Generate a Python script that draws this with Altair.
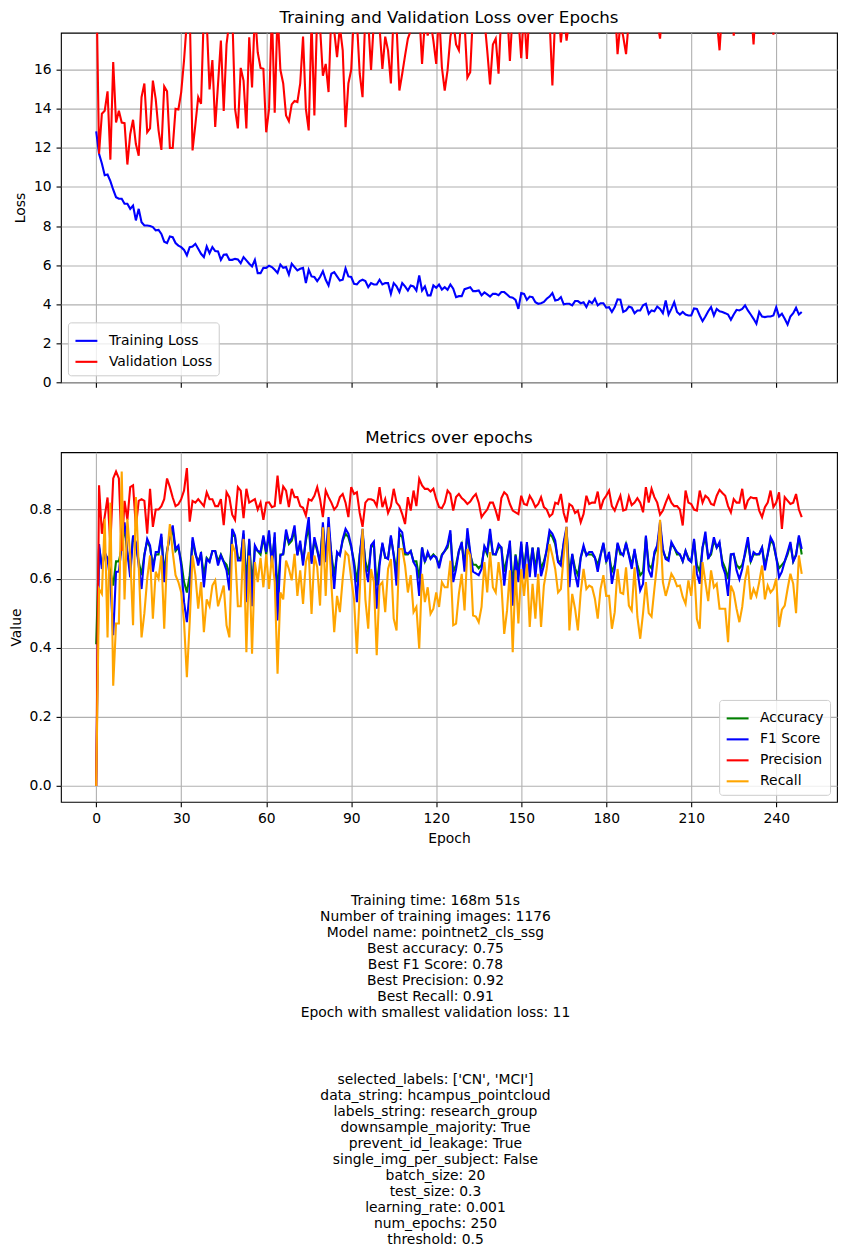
import altair as alt
import pandas as pd

epochs = list(range(250))

train_loss = [
    12.85, 11.7, 11.2, 10.6, 10.64, 10.3, 9.86, 9.48, 9.4, 9.4,
    9.14, 9.14, 8.88, 9.05, 8.29, 8.88, 8.2, 8.03, 8.03, 8.0,
    7.95, 7.78, 7.8, 7.6, 7.2, 7.13, 7.47, 7.43, 7.13, 7.0,
    6.92, 6.78, 6.5, 6.92, 6.95, 7.09, 6.84, 6.58, 6.41, 6.95,
    6.61, 6.92, 6.72, 6.7, 6.27, 6.53, 6.55, 6.27, 6.27, 6.32,
    6.29, 6.1, 6.41, 6.24, 6.07, 5.93, 6.27, 5.59, 5.59, 5.86,
    5.86, 5.97, 5.9, 5.76, 5.6, 6.03, 5.86, 5.9, 5.52, 6.07,
    5.9, 5.73, 5.81, 5.86, 5.08, 5.76, 5.42, 5.39, 5.18, 5.39,
    5.69, 5.25, 4.96, 5.56, 5.64, 5.42, 5.21, 5.25, 5.83, 5.42,
    5.39, 5.04, 5.01, 5.18, 5.25, 5.18, 4.87, 5.08, 5.01, 5.01,
    5.25, 5.01, 5.08, 5.08, 4.53, 5.08, 4.91, 4.62, 5.08, 4.91,
    4.7, 4.96, 4.91, 4.7, 5.47, 4.7, 4.91, 4.45, 4.45, 4.96,
    4.84, 5.01, 4.75, 4.87, 4.74, 5.01, 4.79, 4.36, 4.41, 4.41,
    4.77, 4.82, 4.87, 4.67, 4.67, 4.7, 4.45, 4.6, 4.5, 4.39,
    4.53, 4.53, 4.46, 4.62, 4.62, 4.5, 4.36, 4.33, 4.22, 3.76,
    4.57, 4.53, 4.22, 4.39, 4.36, 4.1, 4.02, 4.05, 4.12, 4.28,
    4.39, 4.57, 4.19, 4.22, 4.36, 3.99, 4.02, 4.02, 3.94, 4.16,
    4.16, 4.05, 4.1, 3.85, 4.16, 4.05, 4.28, 3.94, 4.05, 4.05,
    3.82, 3.85, 3.6, 3.85, 4.25, 4.23, 3.6, 3.68, 3.88, 3.82,
    3.54, 3.68, 3.68, 3.94, 4.02, 3.51, 3.68, 3.64, 3.88, 3.76,
    3.54, 4.19, 3.47, 3.76, 4.1, 3.6, 3.47, 3.6, 3.47, 3.42,
    3.42, 3.78, 3.76, 3.42, 3.13, 3.37, 3.64, 3.85, 3.42, 3.76,
    3.64, 3.6, 3.54, 3.47, 3.2, 3.47, 3.71, 3.68, 3.76, 3.94,
    3.68, 3.47, 3.25, 3.0, 3.6, 3.37, 3.34, 3.37, 3.37, 3.42,
    3.85, 3.37, 3.51, 3.25, 2.96, 3.37, 3.54, 3.82, 3.47, 3.6,
]

val_loss = [
    21.0, 11.7, 13.75, 13.9, 14.9, 11.4, 16.4, 13.3, 13.9, 13.3,
    13.27, 11.15, 12.7, 13.44, 12.2, 11.6, 14.6, 15.3, 12.8, 13.0,
    15.45, 14.5, 12.9, 11.9, 15.15, 14.9, 12.0, 12.0, 14.0, 13.97,
    14.86, 16.5, 18.5, 19.0, 11.87, 13.2, 14.6, 14.26, 19.0, 18.5,
    15.0, 16.5, 13.07, 15.28, 17.5, 13.9, 17.3, 18.5, 19.0, 14.0,
    13.0, 16.1, 15.45, 13.0, 17.67, 15.1, 19.0, 16.9, 16.1, 16.05,
    12.8, 14.0, 19.0, 13.8, 19.0, 16.0, 15.3, 13.66, 13.37, 14.23,
    14.4, 14.35, 15.3, 17.7, 14.0, 12.9, 18.5, 13.66, 19.0, 18.2,
    15.7, 16.3, 14.86, 19.0, 18.0, 16.65, 18.2, 17.0, 13.06, 15.3,
    16.0, 19.0, 18.5, 15.8, 14.6, 19.0, 18.5, 16.0, 18.5, 19.0,
    18.2, 16.05, 17.7, 17.0, 15.3, 19.0, 18.3, 14.94, 15.8, 16.73,
    17.6, 18.0, 18.2, 18.5, 19.0, 16.3, 18.5, 17.75, 18.5, 17.5,
    16.3, 19.0, 16.13, 14.94, 15.97, 17.7, 18.5, 17.3, 17.0, 19.0,
    18.4, 15.6, 15.88, 19.0, 19.5, 18.8, 20.0, 18.6, 17.0, 15.25,
    17.3, 17.6, 15.8, 19.0, 18.5, 19.2, 16.45, 19.0, 20.1, 18.7,
    16.6, 19.0, 16.56, 19.3, 20.0, 18.9, 19.6, 20.4, 18.8, 19.5,
    18.6, 15.2, 18.8, 19.4, 17.4, 19.0, 17.5, 18.6, 19.8, 20.5,
    19.1, 18.7, 19.9, 20.6, 19.3, 18.9, 20.2, 19.4, 18.8, 19.7,
    20.3, 19.0, 18.4, 19.5, 16.8, 18.4, 17.7, 16.8, 18.6, 19.9,
    20.4, 19.2, 18.8, 20.1, 19.6, 18.9, 20.8, 19.3, 18.5, 17.6,
    19.4, 20.2, 18.7, 19.8, 21.0, 19.5, 18.6, 20.3, 19.1, 18.8,
    20.7, 19.9, 18.4, 19.6, 20.9, 19.2, 18.7, 20.0, 19.4, 18.6,
    17.0, 19.3, 20.5, 18.9, 19.7, 17.75, 19.2, 20.6, 19.0, 18.5,
    20.1, 19.4, 17.3, 19.8, 20.7, 19.1, 18.6, 20.2, 19.5, 17.8,
    19.6, 20.8, 19.0, 18.4, 20.3, 19.7, 18.9, 20.5, 19.2, 19.8,
]

accuracy = [
    0.41, 0.69, 0.64, 0.67, 0.66, 0.62, 0.58, 0.65, 0.65, 0.69,
    0.75, 0.67, 0.63, 0.72, 0.70, 0.65, 0.61, 0.67, 0.71, 0.69,
    0.64, 0.67, 0.67, 0.72, 0.62, 0.68, 0.72, 0.74, 0.68, 0.69,
    0.65, 0.59, 0.56, 0.61, 0.71, 0.67, 0.65, 0.67, 0.61, 0.66,
    0.65, 0.68, 0.68, 0.65, 0.67, 0.65, 0.64, 0.61, 0.73, 0.72,
    0.66, 0.66, 0.73, 0.59, 0.71, 0.58, 0.69, 0.68, 0.67, 0.72,
    0.67, 0.73, 0.65, 0.72, 0.56, 0.67, 0.67, 0.73, 0.70, 0.71,
    0.74, 0.67, 0.70, 0.65, 0.71, 0.75, 0.65, 0.71, 0.68, 0.65,
    0.75, 0.65, 0.75, 0.67, 0.61, 0.67, 0.67, 0.71, 0.73, 0.72,
    0.69, 0.65, 0.59, 0.67, 0.73, 0.65, 0.62, 0.69, 0.70, 0.58,
    0.65, 0.70, 0.66, 0.66, 0.72, 0.67, 0.62, 0.73, 0.72, 0.67,
    0.67, 0.68, 0.65, 0.65, 0.60, 0.69, 0.65, 0.67, 0.66, 0.67,
    0.66, 0.64, 0.67, 0.68, 0.69, 0.73, 0.62, 0.64, 0.68, 0.70,
    0.64, 0.73, 0.67, 0.64, 0.64, 0.63, 0.64, 0.69, 0.67, 0.73,
    0.67, 0.67, 0.69, 0.69, 0.62, 0.66, 0.70, 0.58, 0.67, 0.62,
    0.70, 0.63, 0.70, 0.63, 0.69, 0.63, 0.69, 0.63, 0.65, 0.68,
    0.73, 0.72, 0.70, 0.65, 0.65, 0.70, 0.74, 0.61, 0.67, 0.63,
    0.61, 0.66, 0.69, 0.67, 0.67, 0.67, 0.66, 0.64, 0.67, 0.70,
    0.65, 0.67, 0.62, 0.64, 0.70, 0.67, 0.67, 0.70, 0.67, 0.64,
    0.68, 0.64, 0.61, 0.62, 0.72, 0.64, 0.63, 0.67, 0.69, 0.75,
    0.68, 0.66, 0.66, 0.70, 0.69, 0.67, 0.67, 0.65, 0.68, 0.66,
    0.65, 0.71, 0.64, 0.62, 0.69, 0.72, 0.66, 0.67, 0.71, 0.69,
    0.70, 0.65, 0.63, 0.60, 0.67, 0.67, 0.64, 0.63, 0.64, 0.67,
    0.71, 0.65, 0.67, 0.67, 0.67, 0.69, 0.64, 0.67, 0.71, 0.70,
    0.66, 0.63, 0.64, 0.65, 0.67, 0.70, 0.65, 0.67, 0.72, 0.67,
]

f1_score = [
    0.0, 0.70, 0.628, 0.677, 0.657, 0.59, 0.436, 0.62, 0.62, 0.696,
    0.763, 0.677, 0.604, 0.725, 0.705, 0.638, 0.57, 0.667, 0.715, 0.696,
    0.62, 0.677, 0.677, 0.73, 0.59, 0.68, 0.725, 0.754, 0.686, 0.696,
    0.638, 0.532, 0.474, 0.57, 0.72, 0.677, 0.638, 0.677, 0.575, 0.657,
    0.648, 0.68, 0.68, 0.638, 0.667, 0.648, 0.624, 0.566, 0.744, 0.725,
    0.653, 0.653, 0.74, 0.532, 0.715, 0.52, 0.696, 0.68, 0.677, 0.725,
    0.677, 0.74, 0.633, 0.734, 0.479, 0.667, 0.672, 0.742, 0.706, 0.717,
    0.754, 0.667, 0.71, 0.638, 0.72, 0.778, 0.643, 0.72, 0.686, 0.638,
    0.763, 0.648, 0.778, 0.667, 0.57, 0.677, 0.667, 0.715, 0.744, 0.73,
    0.696, 0.638, 0.532, 0.667, 0.744, 0.633, 0.59, 0.696, 0.707, 0.513,
    0.638, 0.704, 0.662, 0.657, 0.725, 0.667, 0.58, 0.744, 0.734, 0.677,
    0.672, 0.68, 0.648, 0.633, 0.55, 0.69, 0.648, 0.677, 0.657, 0.667,
    0.662, 0.63, 0.667, 0.68, 0.698, 0.74, 0.59, 0.628, 0.68, 0.706,
    0.62, 0.746, 0.677, 0.62, 0.615, 0.61, 0.628, 0.694, 0.677, 0.744,
    0.672, 0.67, 0.70, 0.69, 0.58, 0.652, 0.71, 0.522, 0.667, 0.59,
    0.707, 0.60, 0.706, 0.604, 0.69, 0.604, 0.69, 0.607, 0.638, 0.686,
    0.74, 0.73, 0.71, 0.648, 0.638, 0.706, 0.75, 0.575, 0.672, 0.614,
    0.575, 0.662, 0.696, 0.667, 0.677, 0.677, 0.662, 0.62, 0.667, 0.704,
    0.648, 0.677, 0.585, 0.628, 0.704, 0.677, 0.667, 0.704, 0.667, 0.628,
    0.686, 0.624, 0.566, 0.585, 0.725, 0.624, 0.604, 0.677, 0.696, 0.765,
    0.686, 0.657, 0.652, 0.706, 0.69, 0.677, 0.67, 0.65, 0.68, 0.655,
    0.648, 0.715, 0.615, 0.585, 0.69, 0.736, 0.657, 0.677, 0.72, 0.69,
    0.706, 0.638, 0.614, 0.55, 0.67, 0.672, 0.624, 0.598, 0.628, 0.677,
    0.72, 0.648, 0.677, 0.67, 0.672, 0.69, 0.624, 0.672, 0.72, 0.704,
    0.662, 0.604, 0.62, 0.65, 0.677, 0.706, 0.65, 0.667, 0.725, 0.686,
]

precision = [
    0.0, 0.87, 0.73, 0.78, 0.835, 0.70, 0.89, 0.91, 0.89, 0.68,
    0.825, 0.77, 0.865, 0.87, 0.75, 0.825, 0.83, 0.825, 0.73, 0.86,
    0.75, 0.80, 0.80, 0.81, 0.83, 0.89, 0.865, 0.835, 0.81, 0.815,
    0.83, 0.855, 0.92, 0.765, 0.825, 0.82, 0.83, 0.82, 0.81, 0.85,
    0.83, 0.83, 0.81, 0.81, 0.83, 0.755, 0.85, 0.835, 0.785, 0.77,
    0.865, 0.855, 0.775, 0.86, 0.82, 0.825, 0.83, 0.80, 0.82, 0.77,
    0.82, 0.821, 0.807, 0.81, 0.898, 0.816, 0.867, 0.855, 0.807, 0.86,
    0.836, 0.836, 0.81, 0.805, 0.783, 0.83, 0.826, 0.84, 0.865, 0.83,
    0.778, 0.855, 0.836, 0.82, 0.80, 0.81, 0.836, 0.845, 0.82, 0.778,
    0.865, 0.845, 0.85, 0.79, 0.75, 0.82, 0.83, 0.83, 0.826, 0.81,
    0.865, 0.807, 0.83, 0.79, 0.81, 0.86, 0.82, 0.81, 0.787, 0.758,
    0.836, 0.797, 0.855, 0.81, 0.889, 0.87, 0.86, 0.86, 0.852, 0.86,
    0.83, 0.807, 0.804, 0.82, 0.855, 0.845, 0.797, 0.836, 0.845, 0.833,
    0.826, 0.816, 0.823, 0.836, 0.845, 0.82, 0.778, 0.79, 0.80, 0.82,
    0.82, 0.797, 0.768, 0.833, 0.85, 0.842, 0.816, 0.797, 0.792, 0.787,
    0.84, 0.816, 0.813, 0.84, 0.826, 0.807, 0.816, 0.836, 0.807, 0.80,
    0.78, 0.787, 0.82, 0.816, 0.845, 0.79, 0.763, 0.816, 0.81, 0.79,
    0.797, 0.763, 0.787, 0.84, 0.816, 0.82, 0.82, 0.852, 0.80, 0.828,
    0.84, 0.855, 0.81, 0.797, 0.82, 0.84, 0.797, 0.80, 0.838, 0.813,
    0.82, 0.833, 0.82, 0.792, 0.865, 0.82, 0.86, 0.836, 0.82, 0.785,
    0.797, 0.82, 0.84, 0.82, 0.81, 0.81, 0.80, 0.754, 0.855, 0.82,
    0.816, 0.80, 0.797, 0.855, 0.82, 0.84, 0.833, 0.816, 0.813, 0.84,
    0.857, 0.848, 0.84, 0.81, 0.792, 0.83, 0.82, 0.82, 0.86, 0.80,
    0.826, 0.836, 0.833, 0.833, 0.797, 0.778, 0.807, 0.82, 0.855, 0.807,
    0.82, 0.85, 0.744, 0.836, 0.826, 0.816, 0.82, 0.845, 0.80, 0.778,
]

recall = [
    0.0, 0.57, 0.556, 0.773, 0.43, 0.82, 0.29, 0.47, 0.47, 0.91,
    0.54, 0.773, 0.667, 0.465, 0.836, 0.638, 0.43, 0.50, 0.60, 0.667,
    0.484, 0.62, 0.60, 0.667, 0.455, 0.667, 0.758, 0.677, 0.61, 0.59,
    0.56, 0.474, 0.315, 0.475, 0.667, 0.61, 0.513, 0.59, 0.445, 0.54,
    0.52, 0.58, 0.595, 0.52, 0.55, 0.58, 0.465, 0.43, 0.70, 0.677,
    0.52, 0.52, 0.715, 0.387, 0.667, 0.383, 0.648, 0.59, 0.66, 0.575,
    0.67, 0.57, 0.667, 0.59, 0.325, 0.56, 0.54, 0.652, 0.628, 0.595,
    0.672, 0.55, 0.624, 0.527, 0.648, 0.677, 0.498, 0.667, 0.633, 0.522,
    0.749, 0.55, 0.749, 0.585, 0.445, 0.55, 0.503, 0.60, 0.677, 0.667,
    0.60, 0.54, 0.383, 0.56, 0.744, 0.54, 0.455, 0.628, 0.59, 0.378,
    0.58, 0.59, 0.503, 0.628, 0.657, 0.484, 0.45, 0.686, 0.686, 0.638,
    0.56, 0.61, 0.503, 0.518, 0.397, 0.614, 0.532, 0.575, 0.498, 0.513,
    0.56, 0.518, 0.59, 0.575, 0.575, 0.652, 0.465, 0.47, 0.556, 0.614,
    0.508, 0.686, 0.667, 0.493, 0.49, 0.474, 0.518, 0.648, 0.56, 0.677,
    0.575, 0.56, 0.648, 0.585, 0.44, 0.508, 0.624, 0.387, 0.624, 0.47,
    0.628, 0.55, 0.643, 0.46, 0.585, 0.484, 0.614, 0.46, 0.58, 0.628,
    0.70, 0.667, 0.628, 0.56, 0.57, 0.667, 0.75, 0.45, 0.556, 0.513,
    0.45, 0.56, 0.628, 0.57, 0.58, 0.575, 0.542, 0.484, 0.57, 0.61,
    0.55, 0.55, 0.455, 0.503, 0.628, 0.56, 0.556, 0.633, 0.522, 0.508,
    0.633, 0.489, 0.426, 0.50, 0.59, 0.50, 0.49, 0.57, 0.645, 0.77,
    0.59, 0.55, 0.58, 0.614, 0.60, 0.578, 0.58, 0.547, 0.527, 0.595,
    0.55, 0.638, 0.484, 0.455, 0.648, 0.59, 0.535, 0.624, 0.575, 0.585,
    0.513, 0.513, 0.513, 0.416, 0.58, 0.56, 0.513, 0.474, 0.518, 0.595,
    0.638, 0.54, 0.57, 0.55, 0.59, 0.638, 0.54, 0.58, 0.56, 0.57,
    0.60, 0.46, 0.51, 0.522, 0.57, 0.614, 0.585, 0.50, 0.667, 0.614,
]

summary_lines = [
    "Training time: 168m 51s",
    "Number of training images: 1176",
    "Model name: pointnet2_cls_ssg",
    "Best accuracy: 0.75",
    "Best F1 Score: 0.78",
    "Best Precision: 0.92",
    "Best Recall: 0.91",
    "Epoch with smallest validation loss: 11",
]

param_lines = [
    "selected_labels: ['CN', 'MCI']",
    "data_string: hcampus_pointcloud",
    "labels_string: research_group",
    "downsample_majority: True",
    "prevent_id_leakage: True",
    "single_img_per_subject: False",
    "batch_size: 20",
    "test_size: 0.3",
    "learning_rate: 0.001",
    "num_epochs: 250",
    "threshold: 0.5",
]

FONT = "DejaVu Sans"
W = 777
H = 350

# long tables for the two panels
loss_df = pd.concat([
    pd.DataFrame({"epoch": epochs, "value": train_loss, "series": "Training Loss"}),
    pd.DataFrame({"epoch": epochs, "value": val_loss, "series": "Validation Loss"}),
])
metric_names = ["Accuracy", "F1 Score", "Precision", "Recall"]
metric_df = pd.concat([
    pd.DataFrame({"epoch": epochs, "value": vals, "series": name})
    for name, vals in zip(metric_names, [accuracy, f1_score, precision, recall])
])

# text block: one row per line, blank gap between the two blocks
text_df = pd.DataFrame({
    "row": list(range(len(summary_lines))) + [11.19 + i for i in range(len(param_lines))],
    "text": summary_lines + param_lines,
    "col": 0.4826,
})

x_scale = alt.Scale(domain=[-12.45, 261.45], nice=False, zero=False)
x_ticks = list(range(0, 241, 30))

legend_style = dict(
    title=None, symbolType="stroke", symbolStrokeWidth=2.1, symbolSize=480,
    labelFontSize=13.9, labelFont=FONT, labelColor="black", labelOffset=10,
    rowPadding=1, padding=6, fillColor="rgba(255,255,255,0.8)",
    strokeColor="#cccccc", cornerRadius=3, offset=7,
)

loss_scale = alt.Scale(domain=["Training Loss", "Validation Loss"], range=["blue", "red"])


def loss_line(name):
    return alt.Chart(loss_df).transform_filter(alt.datum.series == name).mark_line(
        strokeWidth=2.1, clip=True
    ).encode(
        x=alt.X("epoch:Q", scale=x_scale,
                axis=alt.Axis(values=x_ticks, labels=False, title=None)),
        y=alt.Y("value:Q", scale=alt.Scale(domain=[0, 17.9], nice=False, zero=False),
                axis=alt.Axis(values=list(range(0, 17, 2)), title="Loss")),
        color=alt.Color("series:N", scale=loss_scale,
                        legend=alt.Legend(orient="bottom-left", **legend_style)),
    )


top = alt.layer(loss_line("Training Loss"), loss_line("Validation Loss")).properties(
    width=W, height=H,
    title=alt.Title("Training and Validation Loss over Epochs", frame="group"),
)

metric_scale = alt.Scale(domain=metric_names, range=["green", "blue", "red", "orange"])


def metric_line(name):
    return alt.Chart(metric_df).transform_filter(alt.datum.series == name).mark_line(
        strokeWidth=2.1
    ).encode(
        x=alt.X("epoch:Q", scale=x_scale, axis=alt.Axis(values=x_ticks, title="Epoch")),
        y=alt.Y("value:Q", scale=alt.Scale(domain=[-0.046, 0.966], nice=False, zero=False),
                axis=alt.Axis(values=[0, 0.2, 0.4, 0.6, 0.8], format=".1f", title="Value")),
        color=alt.Color("series:N", scale=metric_scale,
                        legend=alt.Legend(orient="bottom-right", **legend_style)),
    )


bottom = alt.layer(*[metric_line(n) for n in metric_names]).properties(
    width=W, height=H,
    title=alt.Title("Metrics over epochs", frame="group"),
)

notes = alt.Chart(text_df).mark_text(
    font=FONT, fontSize=13.9, align="center", baseline="middle", color="black"
).encode(
    x=alt.X("col:Q", scale=alt.Scale(domain=[0, 1]), axis=None),
    y=alt.Y("row:Q", scale=alt.Scale(domain=[-1.04, 21.6], reverse=True, nice=False, zero=False),
            axis=None),
    text="text:N",
).properties(width=W, height=362, view=alt.ViewBackground(stroke="transparent"))

chart = alt.vconcat(top, bottom, notes, spacing=38).resolve_scale(
    color="independent"
).configure(
    font=FONT, padding={"left": 0, "top": 0, "right": 0, "bottom": 0}
).configure_view(
    stroke="black", strokeWidth=1.1
).configure_axis(
    labelFont=FONT, labelFontSize=13.9, labelColor="black",
    titleFont=FONT, titleFontSize=13.9, titleFontWeight="normal", titleColor="black",
    tickColor="black", tickSize=4.9, tickWidth=1.1, labelPadding=4.9, titlePadding=5.6,
    gridColor="#b0b0b0", gridWidth=1.1, domain=False,
).configure_title(
    font=FONT, fontSize=16.7, fontWeight="normal", color="black", offset=6, anchor="middle"
)

chart.save("out.html", embed_options={"renderer": "svg", "actions": False})
